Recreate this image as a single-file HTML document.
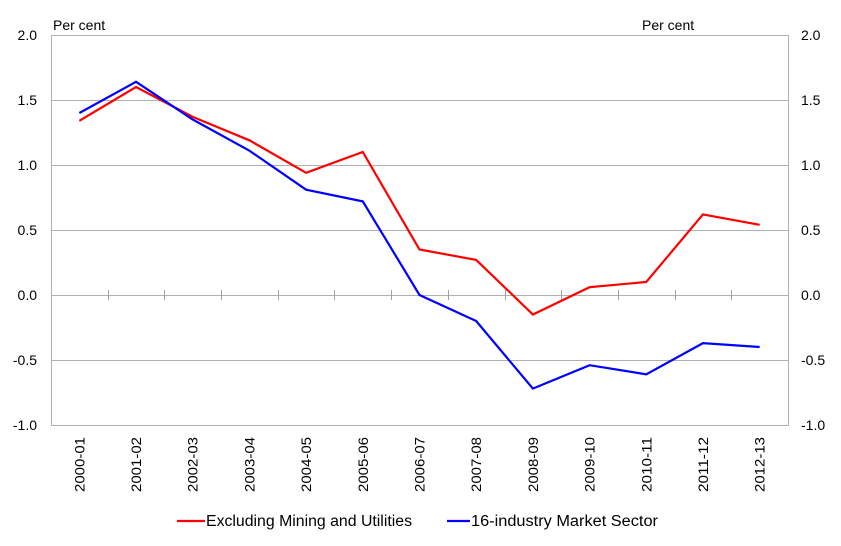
<!DOCTYPE html>
<html><head><meta charset="utf-8"><style>body{margin:0;background:#fff}</style></head><body>
<svg width="841" height="541" xmlns="http://www.w3.org/2000/svg" font-family="Liberation Sans, sans-serif" font-size="14" fill="#000">
<g stroke="#b0b0b0" stroke-width="1">
<line x1="51" y1="35.5" x2="788" y2="35.5"/>
<line x1="51" y1="100.5" x2="788" y2="100.5"/>
<line x1="51" y1="165.5" x2="788" y2="165.5"/>
<line x1="51" y1="230.5" x2="788" y2="230.5"/>
<line x1="51" y1="295.5" x2="788" y2="295.5"/>
<line x1="51" y1="360.5" x2="788" y2="360.5"/>
<line x1="51" y1="425.5" x2="788" y2="425.5"/>
<line x1="51.5" y1="35" x2="51.5" y2="426"/>
<line x1="788.5" y1="35" x2="788.5" y2="426"/>
</g>
<g stroke="#a0a0a0" id="ticks"></g>
<g text-anchor="end">
<text x="37" y="40">2.0</text><text x="37" y="105">1.5</text><text x="37" y="170">1.0</text><text x="37" y="235">0.5</text><text x="37" y="300">0.0</text><text x="37" y="365">-0.5</text><text x="37" y="430">-1.0</text>
</g>
<g text-anchor="start">
<text x="801" y="40">2.0</text><text x="801" y="105">1.5</text><text x="801" y="170">1.0</text><text x="801" y="235">0.5</text><text x="801" y="300">0.0</text><text x="801" y="365">-0.5</text><text x="801" y="430">-1.0</text>
</g>
<text x="53" y="30">Per cent</text>
<text x="642" y="30">Per cent</text>
<g id="lab" text-anchor="end"></g>
<polyline id="r" fill="none" stroke="#ff0000" stroke-width="2.2"/>
<polyline id="b" fill="none" stroke="#0000ff" stroke-width="2.2"/>
<line x1="177" y1="521" x2="205" y2="521" stroke="#ff0000" stroke-width="2.2"/>
<text x="206" y="526" font-size="15.5" textLength="206" lengthAdjust="spacingAndGlyphs">Excluding Mining and Utilities</text>
<line x1="447" y1="521" x2="470" y2="521" stroke="#0000ff" stroke-width="2.2"/>
<text x="471" y="526" font-size="15.5" textLength="187" lengthAdjust="spacingAndGlyphs">16-industry Market Sector</text>
</svg>
<script>
var s=document.querySelector('svg'),NS='http://www.w3.org/2000/svg';
var labs=['2000-01','2001-02','2002-03','2003-04','2004-05','2005-06','2006-07','2007-08','2008-09','2009-10','2010-11','2011-12','2012-13'];
var R=[1.34,1.60,1.37,1.19,0.94,1.10,0.35,0.27,-0.15,0.06,0.10,0.62,0.54];
var B=[1.40,1.64,1.35,1.11,0.81,0.72,0.0,-0.20,-0.72,-0.54,-0.61,-0.37,-0.40];
var w=737/13,cx=i=>51+w*(i+0.5),cy=v=>295-130*v;
var tk=document.getElementById('ticks'),lb=document.getElementById('lab');
for(var i=1;i<13;i++){var l=document.createElementNS(NS,'line');var x=Math.round(51+w*i)+0.5;l.setAttribute('x1',x);l.setAttribute('x2',x);l.setAttribute('y1',290);l.setAttribute('y2',300);tk.appendChild(l);}
labs.forEach(function(t,i){var e=document.createElementNS(NS,'text');var x=cx(i)+5;e.setAttribute('transform','translate('+x+',437) rotate(-90)');e.setAttribute('textLength','55');e.setAttribute('lengthAdjust','spacingAndGlyphs');e.textContent=t;lb.appendChild(e);});
document.getElementById('r').setAttribute('points',R.map((v,i)=>cx(i)+','+cy(v)).join(' '));
document.getElementById('b').setAttribute('points',B.map((v,i)=>cx(i)+','+cy(v)).join(' '));
</script>
</body></html>
